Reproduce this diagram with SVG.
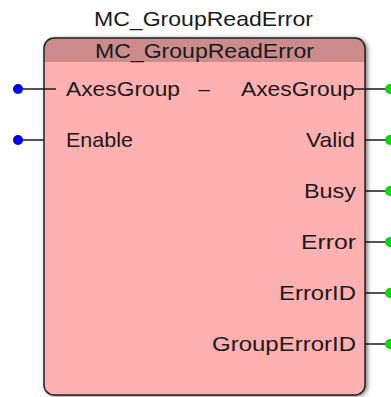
<svg xmlns="http://www.w3.org/2000/svg" width="391" height="397" viewBox="0 0 391 397">
<style>
.t{font-family:"Liberation Sans",Arial,sans-serif;font-size:21px;fill:#1a1a1a}
.w{stroke:#1a1a1a;stroke-width:1.5;fill:none}
.in{fill:#0000ee}
.out{fill:#00dd00}
</style>
<defs>
<filter id="sh" x="-10%" y="-10%" width="120%" height="120%">
<feDropShadow dx="2" dy="1" stdDeviation="2.5" flood-color="#000" flood-opacity="0.65"/>
</filter>
<clipPath id="bc"><rect x="44" y="38" width="321" height="357" rx="10"/></clipPath>
</defs>
<text class="t" x="94" y="26" textLength="219" lengthAdjust="spacingAndGlyphs">MC_GroupReadError</text>
<g id="block">
<rect x="44" y="38" width="321" height="357" rx="10" fill="#ffb0b0" filter="url(#sh)"/>
<rect x="44" y="38" width="321" height="24" fill="#cc8c8c" clip-path="url(#bc)"/>
<rect x="44" y="38" width="321" height="357" rx="10" fill="none" stroke="#222" stroke-width="1.5"/>
<text class="t" x="95" y="58" textLength="219" lengthAdjust="spacingAndGlyphs">MC_GroupReadError</text>
</g>
<g id="connectors">
<line class="w" x1="18" y1="89" x2="56" y2="89"/>
<line class="w" x1="18" y1="140" x2="44" y2="140"/>
<line class="w" x1="354" y1="89" x2="390" y2="89"/>
<line class="w" x1="365" y1="140" x2="390" y2="140"/>
<line class="w" x1="365" y1="191" x2="390" y2="191"/>
<line class="w" x1="365" y1="242" x2="390" y2="242"/>
<line class="w" x1="365" y1="293" x2="390" y2="293"/>
<line class="w" x1="365" y1="344" x2="390" y2="344"/>
</g>
<g id="pin-AxesGroup-in"><circle class="in" cx="18" cy="89" r="5"/><text class="t" x="66" y="96" textLength="114" lengthAdjust="spacingAndGlyphs">AxesGroup</text></g>
<g id="pin-sep"><text class="t" x="204" y="96" text-anchor="middle">–</text></g>
<g id="pin-Enable"><circle class="in" cx="18" cy="140" r="5"/><text class="t" x="66" y="147" textLength="67" lengthAdjust="spacingAndGlyphs">Enable</text></g>
<g id="pin-AxesGroup-out"><circle class="out" cx="390" cy="89" r="5"/><text class="t" x="241" y="96" textLength="114" lengthAdjust="spacingAndGlyphs">AxesGroup</text></g>
<g id="pin-Valid"><circle class="out" cx="390" cy="140" r="5"/><text class="t" x="306" y="147" textLength="49" lengthAdjust="spacingAndGlyphs">Valid</text></g>
<g id="pin-Busy"><circle class="out" cx="390" cy="191" r="5"/><text class="t" x="304" y="198" textLength="52" lengthAdjust="spacingAndGlyphs">Busy</text></g>
<g id="pin-Error"><circle class="out" cx="390" cy="242" r="5"/><text class="t" x="301" y="249" textLength="55" lengthAdjust="spacingAndGlyphs">Error</text></g>
<g id="pin-ErrorID"><circle class="out" cx="390" cy="293" r="5"/><text class="t" x="279" y="300" textLength="77" lengthAdjust="spacingAndGlyphs">ErrorID</text></g>
<g id="pin-GroupErrorID"><circle class="out" cx="390" cy="344" r="5"/><text class="t" x="212" y="351" textLength="144" lengthAdjust="spacingAndGlyphs">GroupErrorID</text></g>
</svg>
